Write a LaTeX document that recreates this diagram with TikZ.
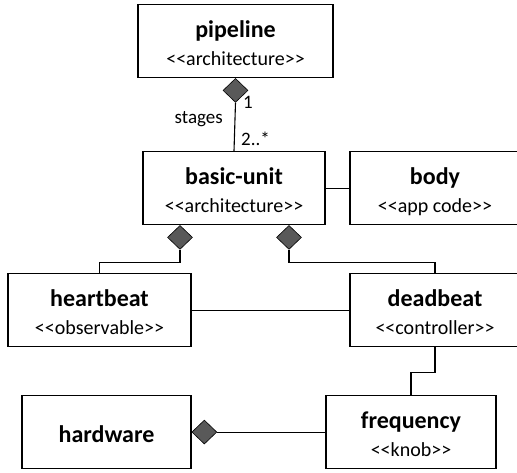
\documentclass[tikz,border=0pt]{standalone}
\usepackage{fontspec}
\setmainfont{Carlito}
\usetikzlibrary{shapes.geometric}
% #1 name, #2 centre x, #3 top y, #4 width, #5 class name, #6 stereotype
\newcommand{\umlclass}[6]{%
  \node[cls, minimum width=#4pt, anchor=north] (#1) at (#2,#3) {};
  \node[ttl, anchor=base] (#1-name) at ([yshift=-33pt]#1.north) {#5};
  \node[stereo, anchor=base] (#1-st) at ([yshift=-61pt]#1.north) {<{}<#6>{}>};
}
\begin{document}
\begin{tikzpicture}[x=1pt,y=-1pt,
  cls/.style={draw, line width=1.1pt, fill=white, inner sep=0pt, minimum height=73pt},
  ttl/.style={font=\fontsize{24}{26}\selectfont\bfseries, inner sep=0pt},
  stereo/.style={font=\fontsize{20}{24}\selectfont, inner sep=0pt},
  comp/.style={diamond, draw, line width=0.6pt, fill=black!65, inner sep=0pt,
               minimum width=25pt, minimum height=24pt},
  conn/.style={line width=1.1pt},
  lbl/.style={font=\fontsize{19}{22}\selectfont, inner sep=0pt}]
\useasboundingbox (0,0) rectangle (517,472);

\umlclass{pipe}{235.5}{4}{195}{pipeline}{architecture}
\umlclass{bu}{234}{151}{182}{basic-unit}{architecture}
\umlclass{body}{435}{151}{170}{body}{app code}
\umlclass{hb}{99.5}{273}{183}{heartbeat}{observable}
\umlclass{db}{435}{273}{170}{deadbeat}{controller}
\umlclass{fq}{411}{395}{170}{frequency}{knob}
\node[cls, minimum width=169pt, anchor=north] (hw) at (106.5,395) {};
\node[ttl, anchor=base] (hw-name) at ([yshift=-47pt]hw.north) {hardware};

% composition diamonds
\node[comp, anchor=north] (dpipe) at (pipe.south) {};
\node[comp, anchor=north] (dhb) at ([xshift=-54pt]bu.south) {};
\node[comp, anchor=north] (ddb) at ([xshift=55pt]bu.south) {};
\node[comp, anchor=west] (dhw) at (hw.east) {};

% connectors
\draw[conn] (dpipe.south) -- (bu.north);
\draw[conn] (bu.east) -- (body.west);
\draw[conn] (dhb.south) -- ++(0,13) -| (hb.north);
\draw[conn] (ddb.south) -- ++(0,13) -| (db.north);
\draw[conn] (hb.east) -- (db.west);
\draw[conn] (db.south) -- ++(0,25) -| (fq.north);
\draw[conn] (dhw.east) -- (fq.west);

% multiplicities and role
\node[lbl, anchor=base west] (m1) at (243,108) {1};
\node[lbl, anchor=base east] (role) at (223,123) {stages};
\node[lbl, anchor=base west] (m2) at (241,145) {2..*};
\end{tikzpicture}
\end{document}
